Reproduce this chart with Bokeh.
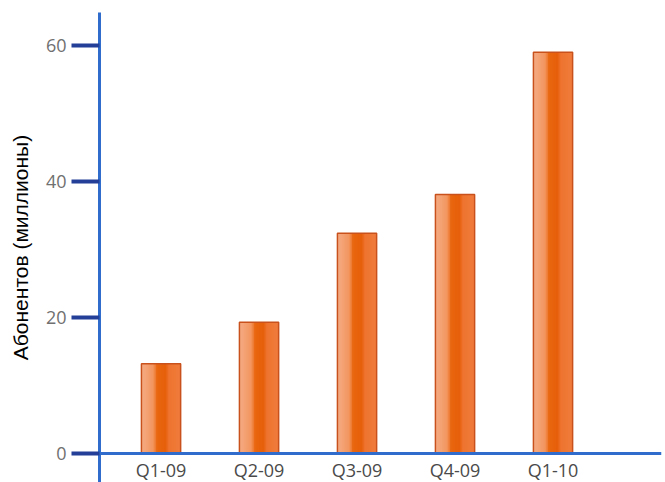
from bokeh.plotting import figure
from bokeh.models import ColumnDataSource, LinearAxis, FixedTicker, Range1d
from bokeh.transform import dodge
from bokeh.embed import file_html
from bokeh.resources import INLINE

# ---- data ----
quarters = ["Q1-09", "Q2-09", "Q3-09", "Q4-09", "Q1-10"]
subscribers = [13.2, 19.3, 32.4, 38.1, 59.0]
y_ticks = [0, 20, 40, 60]
y_title = "Абонентов (миллионы)"

xpos = list(range(len(quarters)))
src = ColumnDataSource(dict(x=xpos, top=subscribers))

p = figure(width=665, height=482, output_backend="svg", toolbar_location=None,
           x_range=Range1d(-0.628, 5.107), y_range=Range1d(-4.26, 64.85),
           x_axis_location=None, y_axis_location=None,
           min_border_left=99, min_border_right=4, min_border_top=12, min_border_bottom=0)
p.outline_line_color = None
p.grid.visible = False
p.background_fill_color = "white"
p.border_fill_color = "white"

# ---- bars with a horizontal gradient (layered strips, no seams) ----
def hex2rgb(h):
    h = h.lstrip("#")
    return tuple(int(h[i:i + 2], 16) for i in (0, 2, 4))

stops = [(0.0, "#f4ab85"), (0.30, "#f3965f"), (0.40, "#e9660f"),
         (0.62, "#e65e0a"), (0.70, "#ee7430"), (1.0, "#f07c3c")]

def grad(t):
    for (t0, c0), (t1, c1) in zip(stops[:-1], stops[1:]):
        if t0 <= t <= t1:
            a, b = hex2rgb(c0), hex2rgb(c1)
            f = (t - t0) / (t1 - t0) if t1 > t0 else 0
            return "#%02x%02x%02x" % tuple(int(round(a[i] + (b[i] - a[i]) * f)) for i in range(3))
    return stops[-1][1]

bar_w = 0.40
n = 24
sw = bar_w / n
for k in range(n):
    t = (k + 0.5) / n
    p.vbar(x=dodge("x", k * sw / 2), top="top", bottom=0, width=bar_w - k * sw,
           source=src, fill_color=grad(t), line_color=None)
p.vbar(x="x", top="top", bottom=0, width=bar_w, source=src,
       fill_alpha=0, line_color="#c9521c", line_width=1.5)

# ---- y axis ----
yax = LinearAxis(ticker=FixedTicker(ticks=y_ticks))
yax.axis_line_color = "#2f6ccc"
yax.axis_line_width = 3
yax.major_tick_line_color = "#233f98"
yax.major_tick_line_width = 4
yax.major_tick_out = 28
yax.major_tick_in = 0
yax.minor_tick_line_color = None
yax.major_label_standoff = 5
yax.major_label_text_font = "Open Sans"
yax.major_label_text_font_size = "18px"
yax.major_label_text_color = "#707070"
yax.axis_label = y_title
yax.axis_label_text_font = "Liberation Sans"
yax.axis_label_text_font_style = "normal"
yax.axis_label_text_font_size = "21px"
yax.axis_label_text_color = "#000000"
yax.axis_label_standoff = 11
p.add_layout(yax, "left")

# ---- x axis (at y = 0 inside the frame) ----
xax = LinearAxis(ticker=FixedTicker(ticks=xpos), fixed_location=0,
                 major_label_overrides={i: q for i, q in zip(xpos, quarters)})
xax.axis_line_color = "#2f6ccc"
xax.axis_line_width = 3
xax.major_tick_line_color = None
xax.minor_tick_line_color = None
xax.major_tick_out = 0
xax.major_tick_in = 0
xax.major_label_standoff = 4
xax.major_label_text_font = "Open Sans"
xax.major_label_text_font_size = "18px"
xax.major_label_text_color = "#4a4a4a"
p.add_layout(xax, "below")

open("out.html", "w").write(file_html(p, INLINE))
